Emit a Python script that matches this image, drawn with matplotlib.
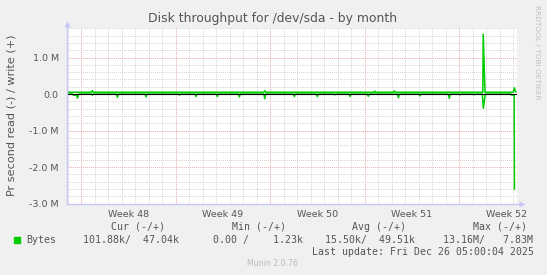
import matplotlib
matplotlib.use('Agg')
import matplotlib.pyplot as plt

W, H = 547, 275

# x in days counted from Mon 24 Nov 2025 00:00, y in bytes per second
x_start, x_end = -1.04, 32.27
y_low, y_high = -3.0e6, 1.81e6

week_centers = [3.5, 10.5, 17.5, 24.5, 31.5]
week_labels = ['Week 48', 'Week 49', 'Week 50', 'Week 51', 'Week 52']

y_ticks = [1.0e6, 0.0, -1.0e6, -2.0e6, -3.0e6]
y_tick_labels = ['1.0 M', '0.0', '-1.0 M', '-2.0 M', '-3.0 M']

# write (+)
write_days = [-1.04, 0.77, 0.84, 0.91, 13.53, 13.60, 13.67, 21.70, 21.76, 21.82,
              23.12, 23.19, 23.26, 29.74, 29.77, 29.90, 32.00, 32.07, 32.18]
write_k = [50, 50, 95, 50, 50, 90, 50, 50, 80, 50,
           50, 85, 50, 50, 1640, 50, 50, 170, 60]

# read (-)
read_days = [-1.04, -0.64, -0.57, -0.33, -0.27, -0.17,
             0.77, 0.84, 0.91,
             2.62, 2.69, 2.76,
             4.74, 4.81, 4.88,
             7.21, 7.28, 7.35,
             8.44, 8.51, 8.58,
             10.02, 10.09, 10.16,
             11.65, 11.72, 11.79,
             13.53, 13.60, 13.67,
             15.72, 15.79, 15.86,
             17.42, 17.49, 17.56,
             18.73, 18.80, 18.87,
             19.84, 19.91, 19.98,
             21.19, 21.26, 21.33,
             23.42, 23.49, 23.56,
             25.02, 25.09, 25.16,
             27.19, 27.26, 27.33,
             27.98, 28.05, 28.12,
             29.04, 29.11, 29.18,
             29.70, 29.78, 29.92,
             31.81, 31.88, 32.06, 32.08]
read_k = [0, 0, -30, -30, -110, 0,
          0, -30, 0,
          0, -90, 0,
          0, -80, 0,
          0, -30, 0,
          0, -70, 0,
          0, -70, 0,
          0, -80, 0,
          0, -130, 0,
          0, -70, 0,
          0, -70, 0,
          0, -20, 0,
          0, -70, 0,
          0, -60, 0,
          0, -100, 0,
          0, -50, 0,
          0, -120, 0,
          0, -20, 0,
          0, -20, 0,
          0, -390, 0,
          0, -30, -30, -2600]

legend_heads = ['Cur (-/+)', 'Min (-/+)', 'Avg (-/+)', 'Max (-/+)']
legend_vals = ['101.88k/  47.04k', '0.00 /    1.23k', '15.50k/  49.51k', '13.16M/   7.83M']
last_update = 'Last update: Fri Dec 26 05:00:04 2025'

GREEN = '#00CC00'
TXT = '#555555'


def fx(px):
    return px / W


def fy(py):
    return 1 - py / H


fig = plt.figure(figsize=(W / 100, H / 100), dpi=100, facecolor='#F0F0F0')
ax = fig.add_axes([fx(67), fy(203.5), 450 / W, 175.5 / H])
ax.set_facecolor('white')
ax.set_xlim(x_start, x_end)
ax.set_ylim(y_low, y_high)
for s in ax.spines.values():
    s.set_visible(False)

# grid: daily / 0.2M minor, weekly / 1M major
dot = (0, (1, 1))
for d in range(-1, 33):
    major = d % 7 == 0
    ax.axvline(d, color='#EBA8A8' if major else '#D4D4D4', lw=0.7, ls=dot, zorder=1)
for i in range(-15, 10):
    yv = i * 0.2e6
    major = i % 5 == 0
    ax.axhline(yv, color='#EBA8A8' if major else '#D4D4D4', lw=0.7, ls=dot, zorder=1)

ax.plot(write_days, [v * 1e3 for v in write_k], color=GREEN, lw=1.1, zorder=3)
ax.plot(read_days, [v * 1e3 for v in read_k], color=GREEN, lw=1.1, zorder=3)
ax.axhline(0, color='black', lw=0.8, zorder=4)

ax.set_yticks(y_ticks, y_tick_labels)
ax.set_xticks(week_centers, week_labels)
ax.tick_params(length=0, labelsize=6.8, colors=TXT)
ax.tick_params(axis='y', pad=6)
ax.tick_params(axis='x', pad=5)

# axis lines with arrows
ARROW = '#C8C8F8'
fig.add_artist(plt.Line2D([fx(67), fx(67)], [fy(203.5), fy(25)], color=ARROW, lw=1))
fig.add_artist(plt.Line2D([fx(67), fx(520)], [fy(203.5), fy(203.5)], color=ARROW, lw=1))
fig.add_artist(plt.Line2D([fx(67)], [fy(23.5)], marker='^', ms=5, color=ARROW, mec='none'))
fig.add_artist(plt.Line2D([fx(522)], [fy(203.5)], marker='>', ms=5, color=ARROW, mec='none'))

fig.text(fx(273), fy(18.5), 'Disk throughput for /dev/sda - by month',
         ha='center', va='center', fontsize=8.9, color=TXT)
fig.text(fx(11.5), fy(115.5), 'Pr second read (-) / write (+)', rotation=90,
         ha='center', va='center', fontsize=8.1, color=TXT)
fig.text(fx(537), fy(5), 'RRDTOOL / TOBI OETIKER', rotation=270,
         ha='center', va='top', fontsize=5.3, color='#C0C0C0')

# legend
mono = dict(family='DejaVu Sans Mono', fontsize=7.1, color=TXT, va='center', ha='left')
fig.add_artist(plt.Rectangle((fx(14), fy(243.3)), 6 / W, 6 / H, color=GREEN))
fig.text(fx(26), fy(240), 'Bytes', **mono)
for xh, head in zip([111, 231.7, 352.3, 472.7], legend_heads):
    fig.text(fx(xh), fy(226.7), head, **mono)
for xv, val in zip([83.3, 212.7, 325, 442.7], legend_vals):
    fig.text(fx(xv), fy(240), val, **mono)
fig.text(fx(311.7), fy(252.3), last_update, **mono)
fig.text(fx(272.5), fy(263.5), 'Munin 2.0.76', ha='center', va='center',
         fontsize=5.6, color='#BBBBBB')

fig.savefig('out.png', dpi=100, facecolor=fig.get_facecolor())
